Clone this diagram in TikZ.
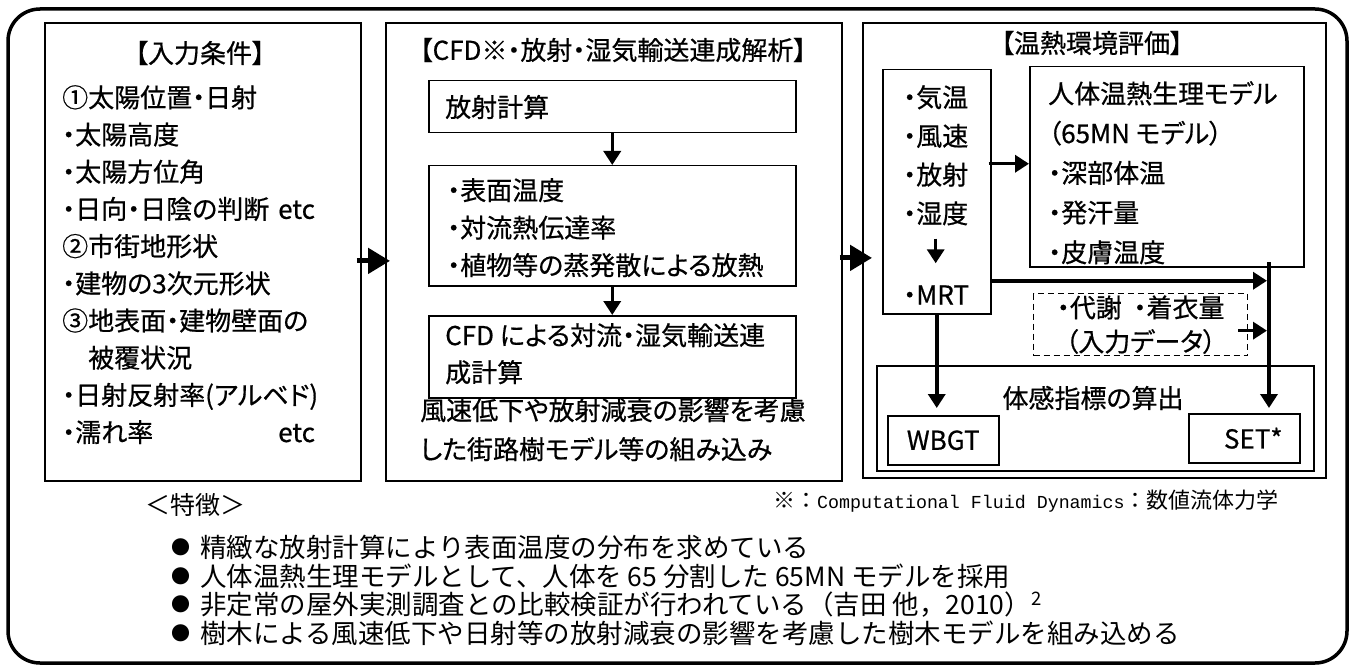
\documentclass[tikz,border=0pt]{standalone}
\usepackage{fontspec}
\setmainfont{Noto Sans CJK JP}[CharacterWidth=AlternateProportional, FakeBold=0.6]
\newfontfamily\minfont{Noto Sans CJK JP}
\newfontfamily\monofont{Liberation Mono}
\newcommand{\dotmark}{\raisebox{3pt}{\fontsize{19}{19}\selectfont ●}\hspace{10pt}}
\usetikzlibrary{arrows.meta, positioning}

\begin{document}
\begin{tikzpicture}[
    x=1pt, y=-1pt,
    panel/.style={draw, line width=1.8pt, inner sep=0pt, anchor=north west},
    box/.style={draw, line width=1.5pt, inner sep=0pt, anchor=north west},
    head/.style={inner sep=0pt, font=\fontsize{26}{30}\selectfont},
    txt/.style={inner sep=0pt, anchor=north west, align=left, font=\fontsize{26}{37.5}\selectfont},
    arrow/.style={-{Triangle[length=14pt, width=17pt]}, line width=3.5pt},
    bigarrow/.style={-{Triangle[length=22pt, width=25pt]}, line width=5pt}
]
\useasboundingbox (0,0) rectangle (1353,666);

% Outer frame
\draw[line width=3.5pt, rounded corners=32pt] (8,9) rectangle (1347,663);

% Input panel
\node[panel, minimum width=316pt, minimum height=458pt] (inp) at (44,22) {};
\node[head] (inptitle) at (200,53) {【入力条件】};
\node[txt, font=\fontsize{26}{37.2}\selectfont] (inptxt) at (62,85) {①太陽位置・日射\\・太陽高度\\・太陽方位角\\\makebox[216pt][l]{・日向・日陰の判断}etc\\②市街地形状\\・建物の3次元形状\\③地表面・建物壁面の\\　被覆状況\\・日射反射率(アルベド)\\\makebox[216pt][l]{・濡れ率}etc};

% CFD panel
\node[panel, minimum width=456pt, minimum height=458pt] (cfd) at (385,22) {};
\node[head] (cfdtitle) at (613,50) {【CFD※・放射・湿気輸送連成解析】};
\node[box, minimum width=367pt, minimum height=52pt] (rad) at (428,80) {};
\node[txt, anchor=west] (radtxt) at (445,107) {放射計算};
\node[box, minimum width=367pt, minimum height=120pt] (surf) at (428,165) {};
\node[txt] (surftxt) at (447,178) {・表面温度\\・対流熱伝達率\\・植物等の蒸発散による放熱};
\node[box, minimum width=367pt, minimum height=82pt] (conv) at (428,315) {};
\node[txt, font=\fontsize{26}{37}\selectfont] (convtxt) at (445,323) {CFD~による対流・湿気輸送連\\成計算};
\node[txt, font=\fontsize{26}{39}\selectfont] (treetxt) at (420,398) {風速低下や放射減衰の影響を考慮\\した街路樹モデル等の組み込み};

% Evaluation panel
\node[panel, minimum width=463pt, minimum height=455pt] (eval) at (862,22) {};
\node[head] (evaltitle) at (1092,43) {【温熱環境評価】};
\node[box, minimum width=108pt, minimum height=244pt] (params) at (882,69) {};
\node[txt, font=\fontsize{26}{38.7}\selectfont] (met) at (903,85) {・気温\\・風速\\・放射\\・湿度};
\node[txt, anchor=west] (mrt) at (903,295) {・MRT};
\node[box, minimum width=274pt, minimum height=200pt] (model) at (1029,66) {};
\node[txt, font=\fontsize{26}{39.7}\selectfont] (modeltxt) at (1048,81) {人体温熱生理モデル\\（65MN~モデル）\\・深部体温\\・発汗量\\・皮膚温度};
\node[box, dash pattern=on 6pt off 4pt, line width=1.3pt, minimum width=214pt, minimum height=62pt,
      align=center, font=\fontsize{26}{34}\selectfont] (extra) at (1033,293) {・代謝~~・着衣量\\（入力データ）};
\node[box, minimum width=437pt, minimum height=105pt] (idx) at (876,365) {};
\node[head] (idxtitle) at (1093,398) {体感指標の算出};
\node[box, minimum width=111pt, minimum height=49pt, font=\fontsize{26}{30}\selectfont] (wbgt) at (887,415) {WBGT};
\node[box, minimum width=111pt, minimum height=49pt, font=\fontsize{26}{30}\selectfont] (set) at (1188,413) {\hspace{18pt}SET*};
\coordinate (jn) at (1269,262);

% Arrows
\draw[bigarrow, shorten <=-5pt, shorten >=-5pt] ([yshift=-9pt]inp.east) -- ([yshift=-9pt]cfd.west);
\draw[bigarrow, shorten <=-3pt, shorten >=-10pt] ([yshift=-6pt]cfd.east) -- ([yshift=-6pt]cfd.east -| eval.west);
\draw[arrow] (rad) -- (surf);
\draw[arrow] (surf) -- (conv);
\draw[arrow, shorten <=13pt, shorten >=22pt] (met.south) -- (met.south |- mrt.north);
\draw[arrow, shorten <=-3pt] ([yshift=28pt]params.east) -- ([yshift=28pt]params.east -| model.west);
\draw[arrow, shorten >=5pt] (jn) -- (jn |- set.north);
\draw[arrow, shorten >=2pt] ([yshift=-89pt]params.east) -- ([yshift=-89pt]params.east -| jn);
\draw[arrow, shorten <=-10pt, shorten >=2pt] ([yshift=-6pt]extra.east) -- ([yshift=-6pt]extra.east -| jn);
\draw[arrow, shorten >=7pt] (params) -- (params |- wbgt.north);

% Notes
\node[inner sep=0pt, font=\minfont\fontsize{25}{30}\selectfont] (feat) at (195,505) {＜特徴＞};
\node[inner sep=0pt, anchor=west, font=\minfont\fontsize{22}{26}\selectfont] (note) at (773,501) {※：{\monofont\fontsize{18.3}{26}\selectfont Computational Fluid Dynamics}：数値流体力学};
\node[txt, font=\minfont\fontsize{26.5}{28.6}\selectfont] (feats) at (171,535) {\dotmark 精緻な放射計算により表面温度の分布を求めている\\\dotmark 人体温熱生理モデルとして、人体を 65 分割した 65MN モデルを採用\\\dotmark 非定常の屋外実測調査との比較検証が行われている（吉田 他，2010）\textsuperscript{2}\\\dotmark 樹木による風速低下や日射等の放射減衰の影響を考慮した樹木モデルを組み込める};

\end{tikzpicture}
\end{document}
